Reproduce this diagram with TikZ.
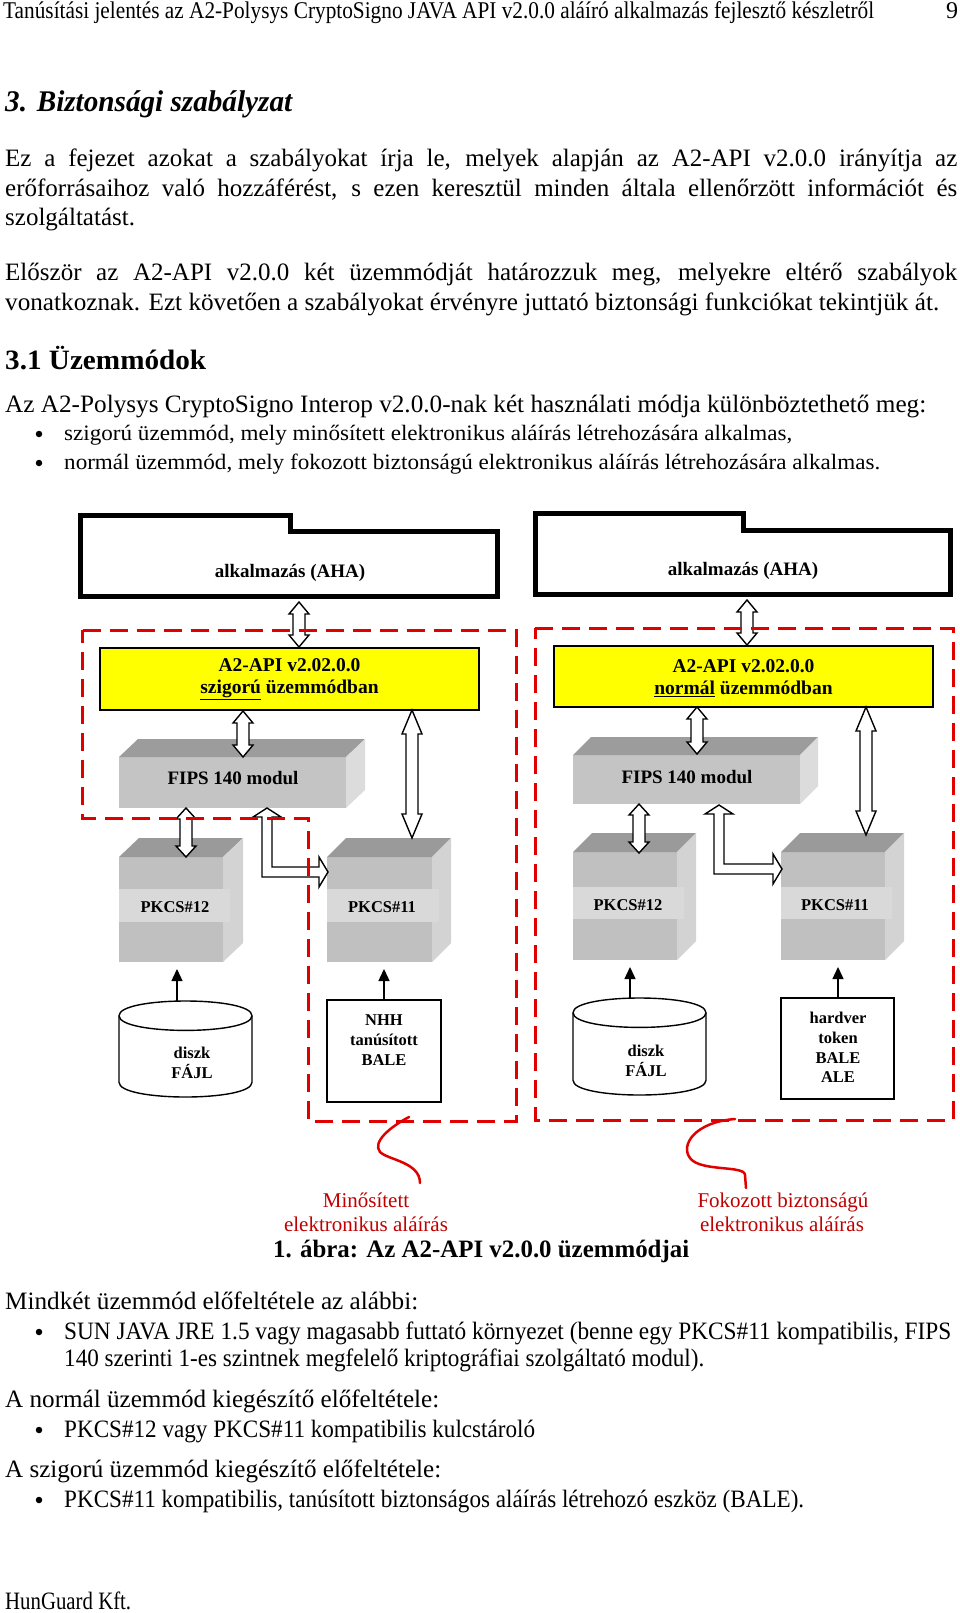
\documentclass[tikz,border=0pt]{standalone}
\usepackage{fontspec}
\usepackage{graphicx}
\setmainfont{Liberation Serif}
\usetikzlibrary{arrows.meta}
\newcommand\fitw[2]{\resizebox{#1pt}{\height}{#2}}
\newcommand\fsz[1]{\fontsize{#1}{#1}\selectfont}
\definecolor{dashred}{HTML}{E00000}
\definecolor{labred}{HTML}{C00000}
\definecolor{ylw}{HTML}{FFFF00}
\definecolor{ctop}{HTML}{9A9A9A}
\definecolor{cfront}{HTML}{C0C0C0}
\definecolor{cband}{HTML}{D9D9D9}
\definecolor{cside}{HTML}{D3D3D3}
\definecolor{ftop}{HTML}{9C9C9C}
\definecolor{ffront}{HTML}{C4C4C4}
\definecolor{fside}{HTML}{DCDCDC}
% vertical hollow double arrow: x, ytop, ybot, head length
\newcommand\vdarr[4]{%
  \draw[harrow] (#1,#2) -- ({#1+10},{#2+#4}) -- ({#1+6},{#2+#4}) -- ({#1+6},{#3-#4}) -- ({#1+10},{#3-#4}) -- (#1,#3) -- ({#1-10},{#3-#4}) -- ({#1-6},{#3-#4}) -- ({#1-6},{#2+#4}) -- ({#1-10},{#2+#4}) -- cycle;}
% hollow L arrow: xc, ytop, yh, xtip
\newcommand\larr[4]{%
  \draw[harrow] (#1,#2) -- ({#1+14},{#2+9}) -- ({#1+5},{#2+9}) -- ({#1+5},{#3-5}) -- ({#4-9},{#3-5}) -- ({#4-9},{#3-15}) -- (#4,#3) -- ({#4-9},{#3+15}) -- ({#4-9},{#3+5}) -- ({#1-5},{#3+5}) -- ({#1-5},{#2+9}) -- ({#1-14},{#2+9}) -- cycle;}
% 3D box: x0 x1 yfronttop ybottom dx dy topcol frontcol sidecol
\newcommand\boxthreed[9]{%
  \fill[#8] (#1,#3) rectangle (#2,#4);
  \fill[#7] (#1,#3) -- ({#1+#5},{#3-#6}) -- ({#2+#5},{#3-#6}) -- (#2,#3) -- cycle;
  \fill[#9] (#2,#3) -- ({#2+#5},{#3-#6}) -- ({#2+#5},{#4-#6}) -- (#2,#4) -- cycle;}
\begin{document}
\begin{tikzpicture}[x=1pt,y=-1pt,
  harrow/.style={draw=black, fill=white, line width=1.4pt, line join=miter},
  tarrow/.style={line width=1.4pt, -{Triangle[length=12pt,width=11pt]}},
  redbox/.style={draw=dashred, line width=3pt, dash pattern=on 18pt off 9pt},
  ahabox/.style={draw=black, line width=5pt, fill=white, line join=miter},
  plainbox/.style={draw=black, line width=1.4pt, fill=white},
  lbl/.style={inner sep=0pt, anchor=base, font=\fsz{19}\bfseries},
  ylbl/.style={inner sep=0pt, align=center, font=\fontsize{19.5}{22}\selectfont\bfseries},
  boxlbl/.style={inner sep=0pt, align=center, font=\fontsize{16.5}{19.7}\selectfont\bfseries},
  body/.style={inner sep=0pt, anchor=base west, font=\fsz{25}},
  small/.style={inner sep=0pt, anchor=base west, font=\fsz{22}},
  redlbl/.style={inner sep=0pt, anchor=base, font=\fsz{21}, text=labred},
  bulletdot/.style={circle, fill=black, inner sep=0pt, minimum size=6.5pt}
]
\fill[white] (0,0) rectangle (960,1613);
\useasboundingbox (0,0) rectangle (960,1613);

% ---------- page text ----------
\node[body, font=\fsz{24}] (hdr) at (3,19) {\fitw{871}{Tanúsítási jelentés az A2-Polysys CryptoSigno JAVA API v2.0.0 aláíró alkalmazás fejlesztő készletről}};
\node[inner sep=0pt, anchor=base, font=\fsz{24}] (pgno) at (952,19) {9};
\node[body, font=\fsz{30}\bfseries\itshape] (sec) at (5,112) {\fitw{287}{3. Biztonsági szabályzat}};

\node[body] (p1a) at (5,167) {\makebox[952pt][s]{Ez a fejezet azokat a szabályokat írja le, melyek alapján az A2-API v2.0.0 irányítja az}};
\node[body] (p1b) at (5,197) {\makebox[952pt][s]{erőforrásaihoz való hozzáférést, s ezen keresztül minden általa ellenőrzött információt és}};
\node[body] (p1c) at (5,226) {szolgáltatást.};
\node[body] (p2a) at (5,280) {\makebox[952pt][s]{Először az A2-API v2.0.0 két üzemmódját határozzuk meg, melyekre eltérő szabályok}};
\node[body] (p2b) at (5,310) {\fitw{934}{vonatkoznak. Ezt követően a szabályokat érvényre juttató biztonsági funkciókat tekintjük át.}};
\node[body, font=\fsz{28}\bfseries] (sub) at (5,369) {\fitw{201}{3.1 Üzemmódok}};
\node[body] (p3) at (5,412) {\fitw{921}{Az A2-Polysys CryptoSigno Interop v2.0.0-nak két használati módja különböztethető meg:}};
\node[bulletdot] (b1) at (39,434) {};
\node[small] (b1t) at (64,440) {\fitw{728}{szigorú üzemmód, mely minősített elektronikus aláírás létrehozására alkalmas,}};
\node[bulletdot] (b2) at (39,463) {};
\node[small] (b2t) at (64,469) {\fitw{816}{normál üzemmód, mely fokozott biztonságú elektronikus aláírás létrehozására alkalmas.}};

% ---------- diagram ----------
% application boxes
\draw[ahabox] (80.7,515) -- (290,515) -- (290,531.7) -- (497,531.7) -- (497,596.7) -- (80.7,596.7) -- cycle;
\node[lbl] (ahaL) at (290,577) {alkalmazás (AHA)};
\draw[ahabox] (535,513) -- (743,513) -- (743,530) -- (950,530) -- (950,594) -- (535,594) -- cycle;
\node[lbl] (ahaR) at (743,575) {alkalmazás (AHA)};

% API boxes
\node[draw=black, line width=1.4pt, fill=ylw, minimum width=379pt, minimum height=62pt, inner sep=0pt] (apiL) at (289.5,679) {};
\node[ylbl] (apiLt) at (289.5,679) {A2-API v2.02.0.0\\\underline{szigorú} üzemmódban};
\node[draw=black, line width=1.4pt, fill=ylw, minimum width=379pt, minimum height=61pt, inner sep=0pt] (apiR) at (743.5,676.5) {};
\node[ylbl] (apiRt) at (743.5,678) {A2-API v2.02.0.0\\\underline{normál} üzemmódban};

% FIPS modules
\boxthreed{119}{346}{757}{808}{19}{18}{ftop}{ffront}{fside}
\node[lbl] (fipsL) at (233,784) {FIPS 140 modul};
\boxthreed{573}{800}{755}{804}{18}{18}{ftop}{ffront}{fside}
\node[lbl] (fipsR) at (687,783) {FIPS 140 modul};

% PKCS cubes
\boxthreed{119}{223}{857}{962}{20}{19}{ctop}{cfront}{cside}
\fill[cband] (119,889) rectangle (230,922);
\node[boxlbl] (p12L) at (175,907) {PKCS\#12};
\boxthreed{327}{432}{857}{962}{19}{19}{ctop}{cfront}{cside}
\fill[cband] (327,889) rectangle (439,922);
\node[boxlbl] (p11L) at (382,907) {PKCS\#11};
\boxthreed{573}{677}{852}{960}{19}{19}{ctop}{cfront}{cside}
\fill[cband] (573,887) rectangle (684,919);
\node[boxlbl] (p12R) at (628,905) {PKCS\#12};
\boxthreed{781}{885}{852}{960}{19}{19}{ctop}{cfront}{cside}
\fill[cband] (781,887) rectangle (892,919);
\node[boxlbl] (p11R) at (835,905) {PKCS\#11};

% storage
\filldraw[fill=white, line width=1.4pt] (119,1015.7) -- (119,1082.3) .. controls (119,1101.9) and (252,1101.9) .. (252,1082.3) -- (252,1015.7) .. controls (252,996.1) and (119,996.1) .. (119,1015.7) -- cycle;
\draw[line width=1.4pt] (119,1015.7) .. controls (119,1035.3) and (252,1035.3) .. (252,1015.7);
\node[boxlbl] (diskL) at (192,1063) {diszk\\FÁJL};
\coordinate (diskLtop) at (177,1001);

\filldraw[fill=white, line width=1.4pt] (573,1012.7) -- (573,1080.3) .. controls (573,1099.9) and (706,1099.9) .. (706,1080.3) -- (706,1012.7) .. controls (706,993.1) and (573,993.1) .. (573,1012.7) -- cycle;
\draw[line width=1.4pt] (573,1012.7) .. controls (573,1032.3) and (706,1032.3) .. (706,1012.7);
\node[boxlbl] (diskR) at (646,1061) {diszk\\FÁJL};
\coordinate (diskRtop) at (630,998);

\draw[plainbox] (327,1000) rectangle (441,1102);
\node[boxlbl] (nhh) at (384,1040) {NHH\\tanúsított\\BALE};
\coordinate (nhhtop) at (384,1000);
\draw[plainbox] (781,998) rectangle (894,1099);
\node[boxlbl] (hw) at (838,1047.5) {hardver\\token\\BALE\\ALE};
\coordinate (hwtop) at (838,998);

% thin arrows storage -> PKCS
\coordinate (p12Lbot) at (177,969);
\coordinate (p11Lbot) at (384,969);
\coordinate (p12Rbot) at (630,967);
\coordinate (p11Rbot) at (838,967);
\draw[tarrow] (diskLtop) -- (p12Lbot);
\draw[tarrow] (nhhtop) -- (p11Lbot);
\draw[tarrow] (diskRtop) -- (p12Rbot);
\draw[tarrow] (hwtop) -- (p11Rbot);

% hollow arrows
\vdarr{299}{602}{647}{12}
\vdarr{747}{600}{645}{12}
\vdarr{243}{711}{757}{12}
\vdarr{697}{707}{754}{12}
\vdarr{412}{710}{838}{24}
\vdarr{866}{707}{835}{24}
\vdarr{186}{808}{857}{11}
\vdarr{639}{804}{853}{11}
\larr{267}{808}{872}{328}
\larr{719}{805}{869}{782}

% red dashed regions
\draw[redbox] (82.7,630) -- (516,630) -- (516,1121) -- (308,1121) -- (308,818) -- (82.7,818) -- cycle;
\draw[redbox] (535,628) -- (953,628) -- (953,1120) -- (535,1120) -- cycle;

% squiggles and labels
\draw[dashred, line width=2.5pt, line cap=round] (409,1117) .. controls (390,1127) and (372,1142) .. (380,1152) .. controls (388,1160) and (420,1162) .. (420,1183);
\draw[dashred, line width=2.5pt, line cap=round] (735,1119) .. controls (695,1122) and (680,1145) .. (690,1158) .. controls (700,1172) and (745,1165) .. (745,1175) -- (746,1188);
\node[redlbl] (minL1) at (366,1207) {Minősített};
\node[redlbl] (minL2) at (366,1231) {elektronikus aláírás};
\node[redlbl] (fokL1) at (783,1207) {Fokozott biztonságú};
\node[redlbl] (fokL2) at (782,1231) {elektronikus aláírás};

% caption
\node[body, font=\fsz{25}\bfseries] (cap) at (273,1257) {\fitw{416}{1. ábra: Az A2-API v2.0.0 üzemmódjai}};

% ---------- lower text ----------
\node[body] (q1) at (5,1309) {\fitw{413}{Mindkét üzemmód előfeltétele az alábbi:}};
\node[bulletdot] (qb1) at (39,1332) {};
\node[body] (q1a) at (64,1339) {\fitw{887}{SUN JAVA JRE 1.5 vagy magasabb futtató környezet (benne egy PKCS\#11 kompatibilis, FIPS}};
\node[body] (q1b) at (64,1366) {\fitw{640}{140 szerinti 1-es szintnek megfelelő kriptográfiai szolgáltató modul).}};
\node[body] (q2) at (5,1407) {\fitw{434}{A normál üzemmód kiegészítő előfeltétele:}};
\node[bulletdot] (qb2) at (39,1430) {};
\node[body] (q2a) at (64,1437) {\fitw{471}{PKCS\#12 vagy PKCS\#11 kompatibilis kulcstároló}};
\node[body] (q3) at (5,1477) {\fitw{436}{A szigorú üzemmód kiegészítő előfeltétele:}};
\node[bulletdot] (qb3) at (39,1500) {};
\node[body] (q3a) at (64,1507) {\fitw{740}{PKCS\#11 kompatibilis, tanúsított biztonságos aláírás létrehozó eszköz (BALE).}};
\node[body] (foot) at (5,1609) {\fitw{126}{HunGuard Kft.}};
\end{tikzpicture}
\end{document}
